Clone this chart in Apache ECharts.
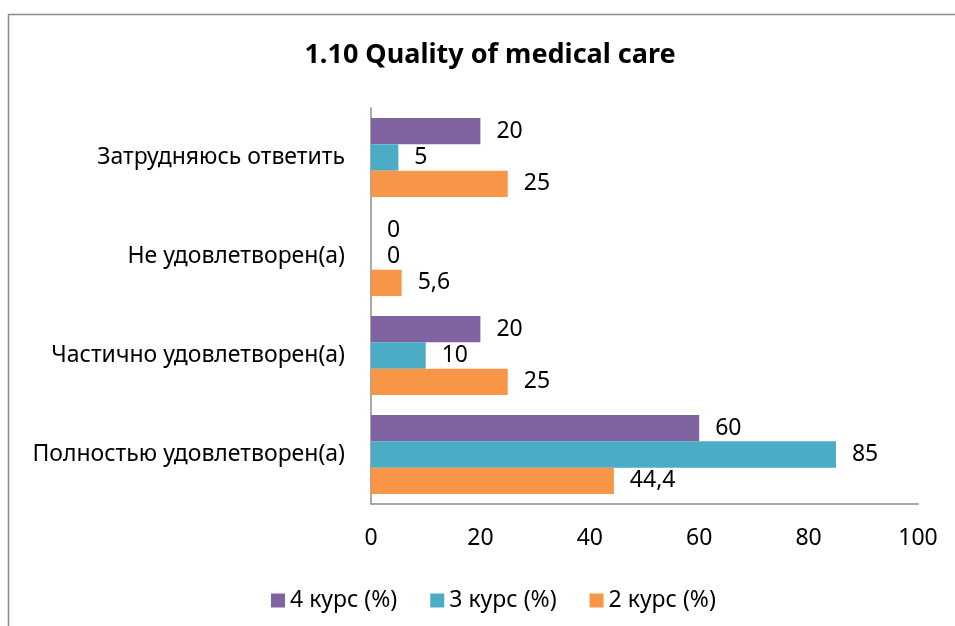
<!DOCTYPE html>
<html>
<head>
<meta charset="utf-8">
<script src="https://cdn.jsdelivr.net/npm/echarts@6/dist/echarts.min.js"></script>
<style>
  html, body { margin: 0; padding: 0; background: #fff; }
  #chart { width: 955px; height: 626px; }
</style>
</head>
<body>
<div id="chart"></div>
<script>
// категории снизу вверх
const categories = [
  'Полностью удовлетворен(а)',
  'Частично удовлетворен(а)',
  'Не удовлетворен(а)',
  'Затрудняюсь ответить',
];
const seriesNames = ['4 курс (%)', '3 курс (%)', '2 курс (%)'];
const course4 = [60, 20, 0, 20];
const course3 = [85, 10, 0, 5];
const course2 = [44.4, 25, 5.6, 25];
const xTicks = [0, 20, 40, 60, 80, 100];

const colors = ['#8064A2', '#4BACC6', '#F79646'];
const font = '"Noto Sans", sans-serif';
const fs = 23;

const chart = echarts.init(document.getElementById('chart'));

const makeSeries = (name, data) => ({
  name,
  type: 'bar',
  data,
  barGap: '0%',
  barCategoryGap: '20%',
  label: {
    show: true,
    position: 'right',
    distance: 16,
    color: '#000',
    fontFamily: font,
    fontSize: fs,
    formatter: (p) => String(p.value).replace('.', ','),
  },
});

chart.setOption({
  animation: false,
  color: colors,
  title: {
    text: '1.10 Quality of medical care',
    left: 485,
    top: 37,
    textAlign: 'center',
    textStyle: { fontFamily: font, fontSize: 27, fontWeight: 'bold', color: '#000' },
  },
  graphic: [{
    type: 'rect',
    shape: { x: 8.5, y: 14.5, width: 1200, height: 1000 },
    style: { fill: 'none', stroke: '#8c8c8c', lineWidth: 1.5 },
    silent: true,
  }],
  legend: {
    data: seriesNames,
    left: 266,
    top: 584,
    itemWidth: 14,
    itemHeight: 14,
    itemGap: 33,
    icon: 'rect',
    textStyle: { fontFamily: font, fontSize: fs, color: '#000' },
  },
  grid: {
    left: 371,
    right: 37,
    top: 108,
    bottom: 122,
    containLabel: false,
  },
  xAxis: {
    type: 'value',
    min: xTicks[0],
    max: xTicks[xTicks.length - 1],
    interval: 20,
    axisLine: { show: true, lineStyle: { color: '#8c8c8c', width: 1.5 } },
    axisTick: { show: false },
    splitLine: { show: false },
    axisLabel: { margin: 23, color: '#000', fontFamily: font, fontSize: fs },
  },
  yAxis: {
    type: 'category',
    data: categories,
    axisLine: { show: true, lineStyle: { color: '#8c8c8c', width: 1.5 } },
    axisTick: { show: false },
    axisLabel: { margin: 26, color: '#000', fontFamily: font, fontSize: fs },
  },
  series: [
    makeSeries(seriesNames[0], course4),
    makeSeries(seriesNames[1], course3),
    makeSeries(seriesNames[2], course2),
  ],
});
</script>
</body>
</html>
